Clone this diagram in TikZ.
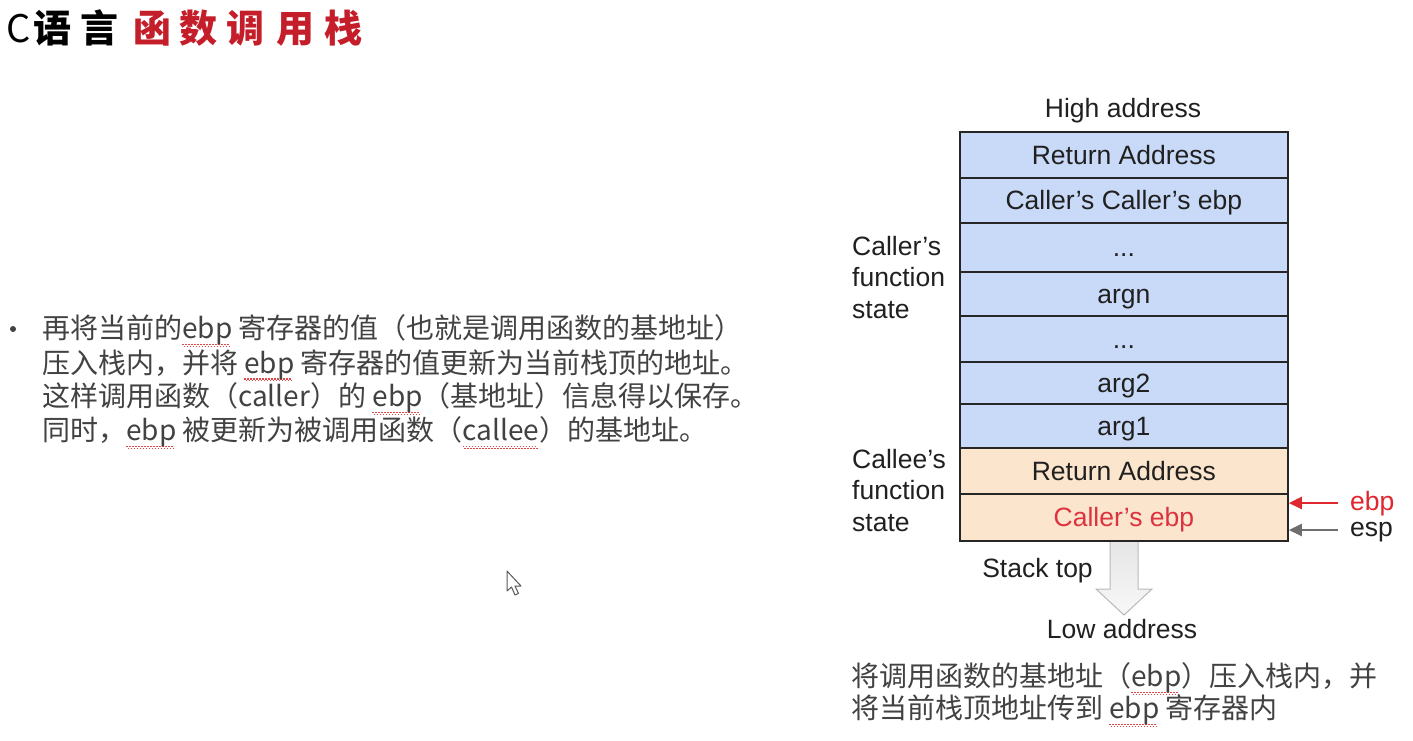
\documentclass[tikz,border=0pt]{standalone}
\usepackage{fontspec}
\setmainfont{Liberation Sans}
\newfontfamily\cjk{Noto Sans CJK SC}
\usetikzlibrary{arrows.meta}

\definecolor{slotblue}{HTML}{C9DAF8}
\definecolor{slotorange}{HTML}{FCE5CD}
\definecolor{titlered}{HTML}{C41E2A}
\definecolor{ebpred}{HTML}{E0262E}
\definecolor{ebptext}{HTML}{DC3340}
\definecolor{bodygray}{HTML}{424242}
\definecolor{labelblack}{HTML}{202020}
\definecolor{ptrgray}{HTML}{6E6E6E}
\definecolor{squigred}{HTML}{E04848}

% wavy spell-check underline built from tiny alternating rules
\newbox\spellbox
\newcommand\spell[1]{\setbox\spellbox=\hbox{#1}%
  \rlap{\color{squigred}\leaders\hbox{\lower6.5pt\hbox{\vrule width1.5pt height1.1pt depth0pt}%
    \lower8.2pt\hbox{\vrule width1.5pt height1.1pt depth0pt}}\hskip\wd\spellbox}%
  \box\spellbox}

\tikzset{
  slot/.style={draw=black!85, line width=1.8pt, minimum width=328pt, inner sep=0pt,
    anchor=north west, text=labelblack, font=\fontsize{26.5}{30}\selectfont,
    text height=19pt, text depth=0pt},
  lbl/.style={inner sep=0pt, text=labelblack, font=\fontsize{26.5}{30}\selectfont,
    text height=19pt, text depth=0pt},
  side/.style={inner sep=0pt, anchor=west, align=left, text=labelblack,
    font=\fontsize{26.5}{31.7}\selectfont},
  body/.style={inner sep=0pt, anchor=base west, text=bodygray,
    font=\cjk\fontsize{28}{34}\selectfont},
  ptr/.style={line width=2.4pt, -{Triangle[length=13pt,width=12pt]}},
}

\begin{document}
\begin{tikzpicture}[x=1pt, y=-1pt]
\useasboundingbox[fill=white] (0,0) rectangle (1413,740);

% title
\node[inner sep=0pt, anchor=base west, font=\cjk\fontsize{38}{40}\selectfont]
  (title) at (6,42) {C\hspace{3pt}\bfseries 语\hspace{9pt}言\hspace{15pt}{\color{titlered}函\hspace{8pt}数\hspace{9pt}调\hspace{12pt}用\hspace{10pt}栈}};

% bullet paragraph
\node[circle, fill=bodygray, inner sep=0pt, minimum size=6pt] (bullet) at (13,329) {};
\node[body] (l1) at (42,338.5) {再将当前的\spell{ebp} 寄存器的值（也就是调用函数的基地址）};
\node[body] (l2) at (42,373) {压入栈内，并将 \spell{ebp} 寄存器的值更新为当前栈顶的地址。};
\node[body] (l3) at (42,406.5) {这样调用函数（caller）的 \spell{ebp}（基地址）信息得以保存。};
\node[body] (l4) at (42,440.5) {同时，\spell{ebp} 被更新为被调用函数（\spell{callee}）的基地址。};

% growth arrow below the stack
\draw[draw=gray!55, top color=gray!20, bottom color=gray!6, line width=1pt]
  (1110,540) -- (1110,589) -- (1096,589) -- (1124,615) -- (1152,589) -- (1138,589) -- (1138,540) -- cycle;

% stack slots
\node[slot, fill=slotblue,   minimum height=46pt] (r1) at (959,131) {Return Address};
\node[slot, fill=slotblue,   minimum height=45pt] (r2) at (959,177) {Caller’s Caller’s ebp};
\node[slot, fill=slotblue,   minimum height=49pt] (r3) at (959,222) {...};
\node[slot, fill=slotblue,   minimum height=44pt] (r4) at (959,271) {argn};
\node[slot, fill=slotblue,   minimum height=46pt] (r5) at (959,315) {...};
\node[slot, fill=slotblue,   minimum height=42pt] (r6) at (959,361) {arg2};
\node[slot, fill=slotblue,   minimum height=44pt] (r7) at (959,403) {arg1};
\node[slot, fill=slotorange, minimum height=46pt] (r8) at (959,447) {Return Address};
\node[slot, fill=slotorange, minimum height=47pt, text=ebptext] (r9) at (959,493) {Caller’s ebp};

% stack labels
\node[lbl] (high) at (1123,108) {High address};
\node[lbl] (low) at (1122,628.5) {Low address};
\node[lbl] (top) at (1037.5,568) {Stack top};
\node[side] (callerstate) at (852,277.5) {Caller’s\\function\\state};
\node[side] (calleestate) at (852,490.5) {Callee’s\\function\\state};

% register pointers
\node[lbl, anchor=west, text=ebpred] (ebpL) at (1350,500.5) {ebp};
\node[lbl, anchor=west] (espL) at (1350,527.2) {esp};
\draw[ptr, ebpred] ([xshift=-12pt,yshift=-2.5pt]ebpL.west) -- ([yshift=-2.5pt]ebpL.west -| r9.east);
\draw[ptr, ptrgray] ([xshift=-12pt,yshift=-2.8pt]espL.west) -- ([yshift=-2.8pt]espL.west -| r9.east);

% note under the stack
\node[body] (b1) at (851,686.5) {将调用函数的基地址（\spell{ebp}）压入栈内，并};
\node[body] (b2) at (851,718.5) {将当前栈顶地址传到 \spell{ebp} 寄存器内};

% mouse pointer
\draw[fill=white, draw=black!65, line width=1pt, line join=round]
  (507,571) -- (507,591) -- (511.5,587) -- (515,595) -- (518.5,593.5) -- (515,586) -- (521,586) -- cycle;
\end{tikzpicture}
\end{document}
